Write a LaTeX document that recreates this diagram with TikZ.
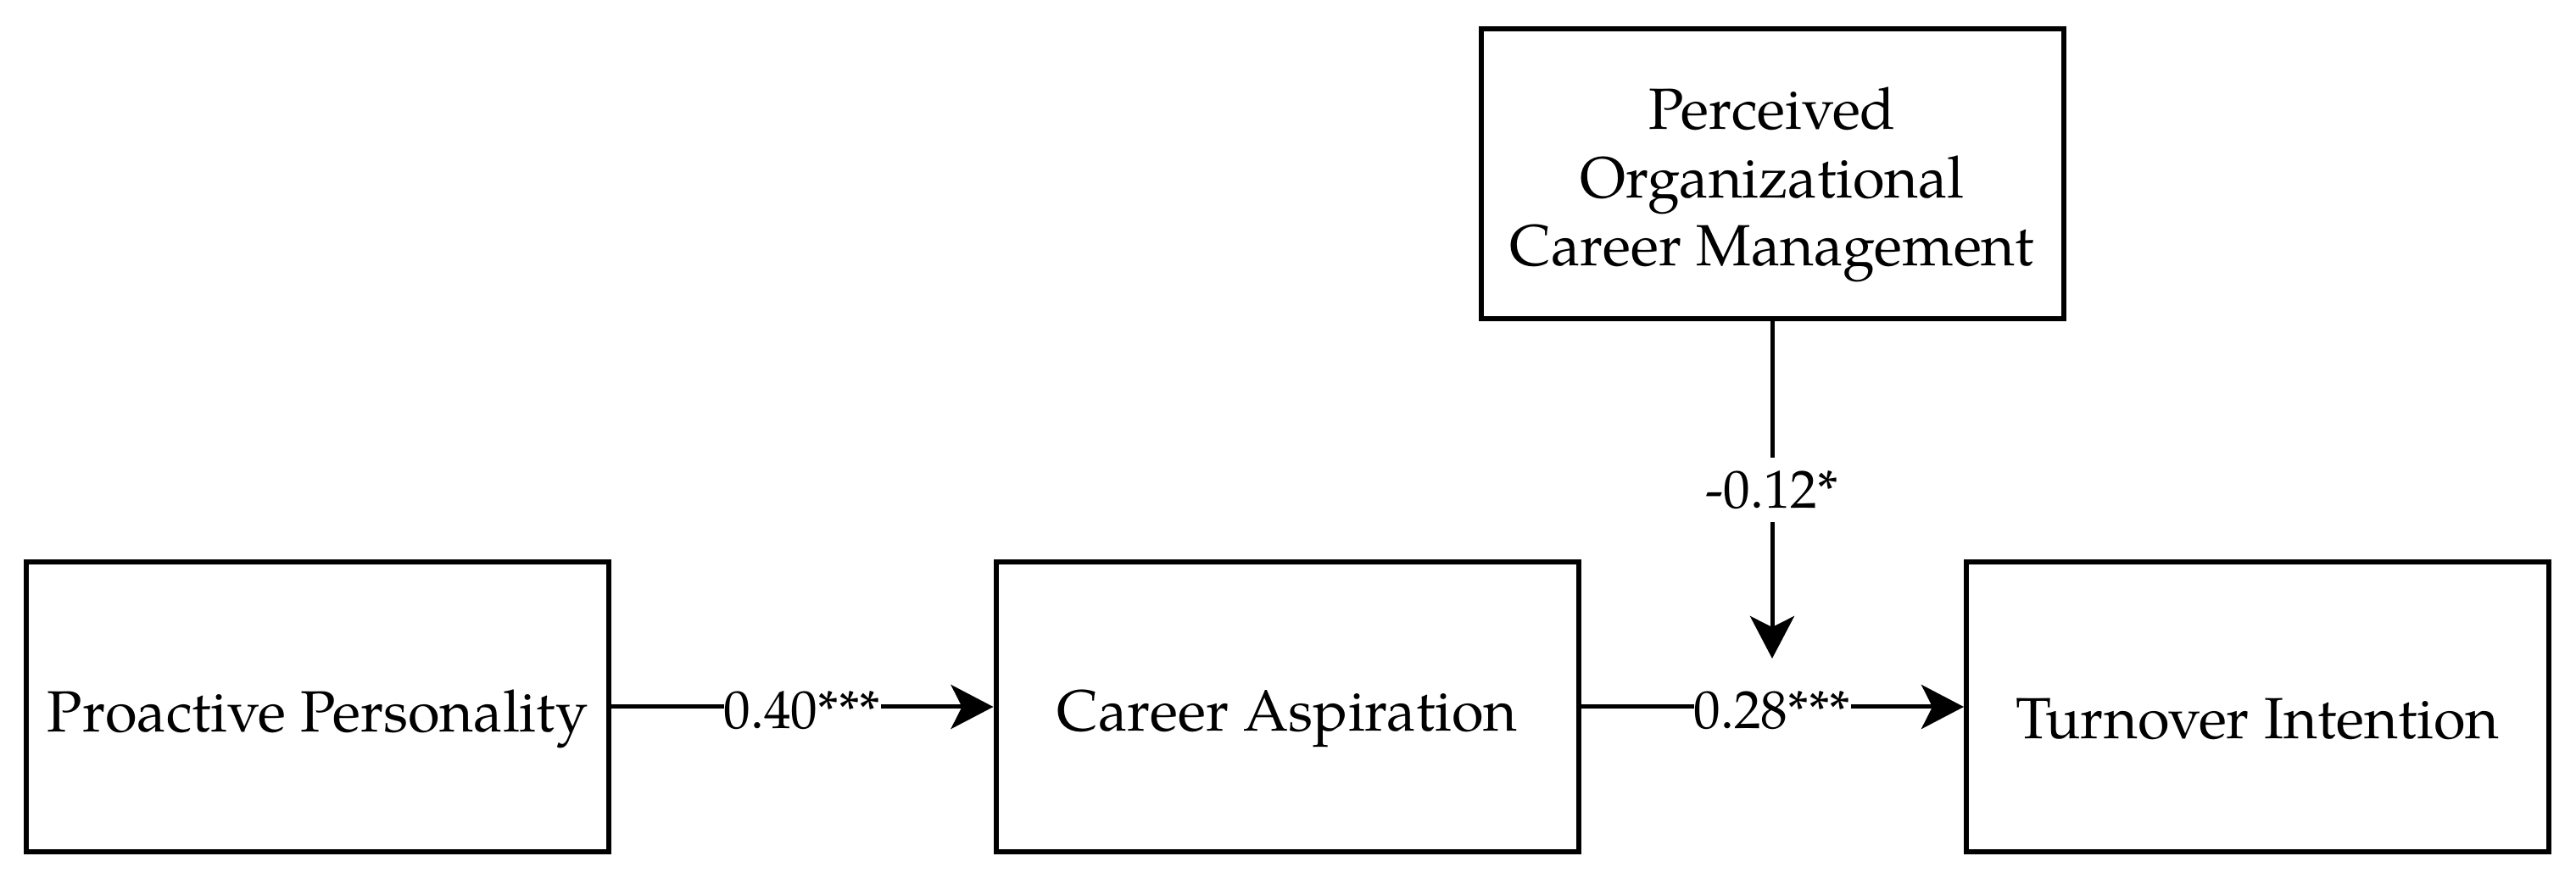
\documentclass[tikz,border=0pt]{standalone}
\usepackage{fontspec}
\setmainfont{TeX Gyre Pagella}
\usetikzlibrary{arrows.meta}
\newcommand{\lowtxt}[2]{\raisebox{-#1}[\height][\depth]{#2}}
\tikzset{
  box/.style={draw=black, line width=0.06cm, minimum width=6.87cm, minimum height=3.42cm, inner sep=0pt, align=center, font=\fontsize{19.5}{22.9}\selectfont},
  conn/.style={draw=black, line width=0.05cm, -{Stealth[length=0.5cm, width=0.52cm, inset=0.13cm]}},
  hlab/.style={fill=white, inner sep=0pt, font=\fontsize{18}{22}\selectfont},
  vlab/.style={fill=white, inner xsep=0pt, inner ysep=0.15cm, font=\fontsize{18}{22}\selectfont}
}
\begin{document}
\begin{tikzpicture}
\useasboundingbox[fill=white] (0,0) rectangle (30.38,10.56);
\node[box] (pp) at (3.745,2.22) {\lowtxt{0.14cm}{Proactive Personality}};
\node[box] (ca) at (15.18,2.22) {\lowtxt{0.14cm}{Career Aspiration}};
\node[box] (ti) at (26.625,2.22) {\lowtxt{0.14cm}{Turnover Intention}};
\node[box] (pocm) at (20.90,8.51) {\lowtxt{0.13cm}{Perceived}\\\lowtxt{0.13cm}{Organizational}\\\lowtxt{0.13cm}{Career Management}};
\coordinate (mod) at (20.90,2.79);
\draw[conn] (pp) -- node[hlab] {\lowtxt{0.04cm}{0.40***}} (ca);
\draw[conn] (ca) -- node[hlab] {\lowtxt{0.04cm}{0.28***}} (ti);
\draw[conn] (pocm) -- node[vlab] {-0.12*} (mod);
\end{tikzpicture}
\end{document}
